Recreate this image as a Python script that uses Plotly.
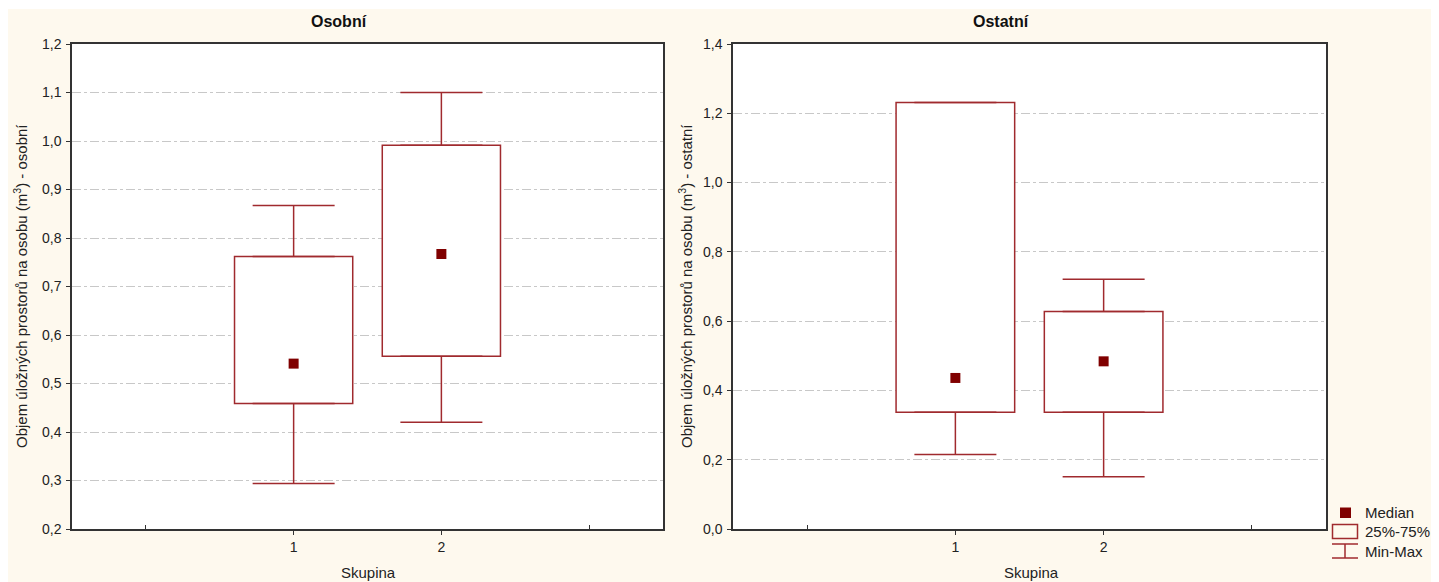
import plotly.graph_objects as go

# ---- data ----
groups = [1, 2]
tick_vals = [1, 2]
tick_text = ["1", "2"]
minor_tick_vals = [0, 3]

osobni_min = [0.294, 0.420]
osobni_q1 = [0.459, 0.556]
osobni_median = [0.541, 0.767]
osobni_q3 = [0.762, 0.991]
osobni_max = [0.867, 1.100]

ostatni_min = [0.215, 0.151]
ostatni_q1 = [0.337, 0.337]
ostatni_median = [0.436, 0.484]
ostatni_q3 = [1.231, 0.628]
ostatni_max = [1.231, 0.721]

panel_titles = ["Osobní", "Ostatní"]
y_titles = ["Objem úložných prostorů na osobu (m<sup>3</sup>) - osobní",
            "Objem úložných prostorů na osobu (m<sup>3</sup>) - ostatní"]
x_title = "Skupina"
legend_labels = ["Median", "25%-75%", "Min-Max"]

# ---- styling / geometry (screen pixels; page body adds an 8px offset) ----
OFF = 8
W, H = 1439 - OFF, 582 - OFF
PLOT_L, PLOT_R, PLOT_T, PLOT_B = 72, 1326, 44, 529   # screen coords
L = PLOT_L - OFF
T = PLOT_T - OFF
R = W - (PLOT_R - OFF)
B = H - (PLOT_B - OFF)
PW = W - L - R
PH = H - T - B
RED = "#A02A2E"
MED = "#800000"
CREAM = "#FEF9EE"
FONT = "Liberation Sans, Arial, sans-serif"


def px2x(px):
    return (px - OFF - L) / PW


def py2y(py):
    return (H - B - (py - OFF)) / PH


fig = go.Figure()


def add_panel(xa, ya, mn, q1, med, q3, mx):
    fig.add_trace(go.Bar(
        x=groups, y=[b - a for a, b in zip(q1, q3)], base=q1, width=0.8,
        marker=dict(color="white", line=dict(color=RED, width=1.5)),
        xaxis=xa, yaxis=ya, showlegend=False, hoverinfo="skip"))
    fig.add_trace(go.Scatter(
        x=groups, y=q3, mode="markers",
        marker=dict(size=1, color="rgba(0,0,0,0)"),
        error_y=dict(type="data", symmetric=False,
                     array=[b - a for a, b in zip(q3, mx)],
                     arrayminus=[0 for _ in q3],
                     width=41, thickness=1.5, color=RED),
        xaxis=xa, yaxis=ya, showlegend=False, hoverinfo="skip"))
    fig.add_trace(go.Scatter(
        x=groups, y=q1, mode="markers",
        marker=dict(size=1, color="rgba(0,0,0,0)"),
        error_y=dict(type="data", symmetric=False,
                     array=[0 for _ in q1],
                     arrayminus=[a - b for a, b in zip(q1, mn)],
                     width=41, thickness=1.5, color=RED),
        xaxis=xa, yaxis=ya, showlegend=False, hoverinfo="skip"))
    fig.add_trace(go.Scatter(
        x=groups, y=med, mode="markers",
        marker=dict(symbol="square", size=10, color=MED, line=dict(width=0)),
        xaxis=xa, yaxis=ya, showlegend=False))


add_panel("x", "y", osobni_min, osobni_q1, osobni_median, osobni_q3, osobni_max)
add_panel("x2", "y2", ostatni_min, ostatni_q1, ostatni_median, ostatni_q3, ostatni_max)

axis_common = dict(showline=True, mirror=True, linecolor="#333333", linewidth=1.5,
                   ticks="outside", ticklen=4, tickcolor="#333333",
                   tickfont=dict(family=FONT, size=14, color="#222222"), zeroline=False)

xcommon = dict(axis_common, range=[-0.5, 3.5], tickmode="array",
               tickvals=tick_vals, ticktext=tick_text, showgrid=False,
               minor=dict(tickmode="array", tickvals=minor_tick_vals, ticks="inside",
                          ticklen=4, tickcolor="#333333", showgrid=False))
ycommon = dict(axis_common, showgrid=True, gridcolor="#C8C8C8", gridwidth=1,
               griddash="dashdot", tickformat=".1f", ticklabelstandoff=2)

fig.update_layout(
    width=W, height=H,
    margin=dict(l=L, r=R, t=T, b=B),
    paper_bgcolor=CREAM, plot_bgcolor="white",
    separators=", ",
    barmode="overlay",
    font=dict(family=FONT, size=12, color="#222222"),
    xaxis=dict(xcommon, domain=[0, px2x(663)], anchor="y"),
    yaxis=dict(ycommon, range=[0.2, 1.2], dtick=0.1, tick0=0.2, anchor="x"),
    xaxis2=dict(xcommon, domain=[px2x(733), 1], anchor="y2"),
    yaxis2=dict(ycommon, range=[0, 1.4], dtick=0.2, tick0=0, anchor="x2"),
    showlegend=False,
)

shapes = []
# thin white strip at the very top (cream starts at y=9 in the reference)
shapes.append(dict(type="rect", xref="paper", yref="paper",
                   x0=px2x(OFF), x1=px2x(1439), y0=py2y(9), y1=py2y(OFF),
                   fillcolor="white", line=dict(width=0), layer="below"))
# legend icons
shapes.append(dict(type="rect", xref="paper", yref="paper",
                   x0=px2x(1340), x1=px2x(1351), y0=py2y(518), y1=py2y(507.5),
                   fillcolor=MED, line=dict(width=0)))
shapes.append(dict(type="rect", xref="paper", yref="paper",
                   x0=px2x(1332.5), x1=px2x(1357.5), y0=py2y(538.5), y1=py2y(524.5),
                   fillcolor="rgba(0,0,0,0)", line=dict(color=RED, width=1.5)))
for yy in (544, 558):
    shapes.append(dict(type="line", xref="paper", yref="paper",
                       x0=px2x(1332), x1=px2x(1358), y0=py2y(yy), y1=py2y(yy),
                       line=dict(color=RED, width=1.5)))
shapes.append(dict(type="line", xref="paper", yref="paper",
                   x0=px2x(1345), x1=px2x(1345), y0=py2y(544), y1=py2y(558),
                   line=dict(color=RED, width=1.5)))

annotations = []
for t, xp in zip(panel_titles, (339, 1001)):
    annotations.append(dict(text="<b>" + t + "</b>", xref="paper", yref="paper",
                            x=px2x(xp), y=py2y(22), xanchor="center", yanchor="middle",
                            showarrow=False, font=dict(family=FONT, size=16, color="#111111")))
for t, xp in zip(y_titles, (20, 685)):
    annotations.append(dict(text=t, xref="paper", yref="paper", textangle=-90,
                            x=px2x(xp), y=py2y(286), xanchor="center", yanchor="middle",
                            showarrow=False, font=dict(family=FONT, size=15, color="#222222")))
for xp in (368, 1031):
    annotations.append(dict(text=x_title, xref="paper", yref="paper",
                            x=px2x(xp), y=py2y(572), xanchor="center", yanchor="middle",
                            showarrow=False, font=dict(family=FONT, size=15, color="#222222")))
for t, yp in zip(legend_labels, (512, 531, 551)):
    annotations.append(dict(text=t, xref="paper", yref="paper",
                            x=px2x(1363), y=py2y(yp), xanchor="left", yanchor="middle",
                            showarrow=False, font=dict(family=FONT, size=15, color="#222222")))

fig.update_layout(shapes=shapes, annotations=annotations)

fig.write_html("out.html")
